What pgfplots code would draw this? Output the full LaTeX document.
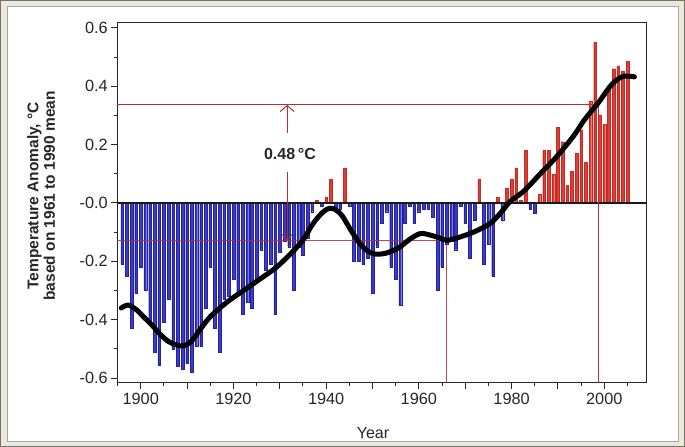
\documentclass[border=0pt]{standalone}
\usepackage{fontspec}
\setmainfont{Liberation Sans}
\usepackage{pgfplots}
\pgfplotsset{compat=1.18}
\usetikzlibrary{arrows.meta}
\definecolor{barblue}{RGB}{58,58,205}
\definecolor{barblueedge}{RGB}{35,35,150}
\definecolor{barred}{RGB}{228,58,48}
\definecolor{barrededge}{RGB}{190,45,40}
\definecolor{refline}{RGB}{178,48,48}
\definecolor{frameback}{RGB}{236,233,216}
\begin{document}
\begin{tikzpicture}
\fill[frameback] (0bp,0bp) rectangle (685bp,447bp);
\draw[black!55, line width=1bp] (0.5bp,0.5bp) rectangle (684.5bp,446.5bp);
\filldraw[fill=white, draw=black!35, line width=0.8bp] (7bp,6bp) rectangle (678bp,441bp);
\begin{axis}[
  at={(117.3bp,64.3bp)}, anchor=south west,
  scale only axis, width=529.4bp, height=360.4bp,
  xmin=1894.95, xmax=2009.15, ymin=-0.616, ymax=0.619,
  axis line style={line width=1.3bp, black!85},
  tick align=outside, xtick pos=bottom, ytick pos=left,
  major tick length=6bp, minor tick length=3.5bp,
  every tick/.style={black!85, line width=1bp},
  xtick={1900,1910,...,2000},
  xticklabels={1900,,1920,,1940,,1960,,1980,,2000},
  minor xtick={1895,1905,...,2005},
  ytick={-0.6,-0.4,-0.2,0,0.2,0.4,0.6},
  yticklabels={-0.6,-0.4,-0.2,-0.0,0.2,0.4,0.6},
  minor ytick={-0.5,-0.3,-0.1,0.1,0.3,0.5},
  /pgf/number format/assume math mode=true,
  ticklabel style={font=\fontsize{16.3bp}{18bp}\selectfont, text=black!85},
  xticklabel style={yshift=-0.5bp},
  xlabel={Year},
  xlabel style={at={(axis description cs:0.483,-0.14)}, anchor=center, font=\fontsize{16bp}{19bp}\selectfont, text=black!85},
  ylabel={\textbf{Temperature Anomaly, °C}\\\textbf{based on 1961 to 1990 mean}},
  ylabel style={at={(axis description cs:-0.144,0.5186)}, anchor=center, align=center, font=\fontsize{15.5bp}{16.5bp}\selectfont, text=black!85},
  clip=false,
]
% negative anomalies (blue bars)
\addplot[ybar, bar width=2.7bp, bar shift=0pt, fill=barblue, draw=barblueedge, line width=0.25bp] coordinates {
(1896,-0.21) (1897,-0.25) (1898,-0.43) (1899,-0.31) (1900,-0.22)
(1901,-0.30) (1902,-0.42) (1903,-0.51) (1904,-0.555) (1905,-0.41)
(1906,-0.33) (1907,-0.50) (1908,-0.56) (1909,-0.57) (1910,-0.55)
(1911,-0.58) (1912,-0.49) (1913,-0.49) (1914,-0.36) (1915,-0.22)
(1916,-0.43) (1917,-0.51) (1918,-0.33) (1919,-0.32) (1920,-0.26)
(1921,-0.31) (1922,-0.38) (1923,-0.34) (1924,-0.36) (1925,-0.26)
(1926,-0.16) (1927,-0.23) (1928,-0.21) (1929,-0.38) (1930,-0.17)
(1931,-0.13) (1932,-0.15) (1933,-0.30) (1934,-0.15) (1935,-0.18)
(1936,-0.12) (1937,-0.03) (1939,-0.01) (1942,-0.02) (1943,-0.02)
(1945,-0.01) (1946,-0.20) (1947,-0.20) (1948,-0.21) (1949,-0.19)
(1950,-0.31) (1951,-0.15) (1952,-0.07) (1953,-0.03) (1954,-0.22)
(1955,-0.26) (1956,-0.35) (1957,-0.07) (1958,-0.01) (1959,-0.07)
(1960,-0.03) (1961,-0.02) (1962,-0.02) (1963,-0.05) (1964,-0.30)
(1965,-0.22) (1966,-0.14) (1967,-0.13) (1968,-0.16) (1969,-0.01)
(1970,-0.07) (1971,-0.19) (1972,-0.06) (1974,-0.21) (1975,-0.14)
(1976,-0.25) (1978,-0.06) (1984,-0.02) (1985,-0.035)
};
% positive anomalies (red bars)
\addplot[ybar, bar width=2.7bp, bar shift=0pt, fill=barred, draw=barrededge, line width=0.25bp] coordinates {
(1938,0.01) (1940,0.02) (1941,0.08) (1944,0.12) (1973,0.08)
(1977,0.02) (1979,0.05) (1980,0.08) (1981,0.12) (1982,0.01)
(1983,0.18) (1986,0.03) (1987,0.18) (1988,0.18) (1989,0.10)
(1990,0.26) (1991,0.21) (1992,0.06) (1993,0.11) (1994,0.17)
(1995,0.25) (1996,0.14) (1997,0.35) (1998,0.55) (1999,0.30)
(2000,0.27) (2001,0.40) (2002,0.46) (2003,0.47) (2004,0.45)
(2005,0.485)
};
% zero line
\draw[black!90, line width=1.3bp] (axis cs:1894.95,0) -- (axis cs:2009.15,0);
% reference lines
\draw[refline, line width=1.2bp] (axis cs:1894.95,0.336) -- (axis cs:1998.8,0.336) -- (axis cs:1998.8,-0.616);
\draw[refline, line width=1.2bp, opacity=0.85] (axis cs:1894.95,-0.128) -- (axis cs:1966,-0.128) -- (axis cs:1966,-0.616);
\draw[refline, line width=1bp, -{Straight Barb[length=6bp,width=14bp]}] (axis cs:1931.6,0.24) -- (axis cs:1931.6,0.336);
\draw[refline, line width=1bp, -{Straight Barb[length=5bp,width=10bp]}] (axis cs:1931.6,0.107) -- (axis cs:1931.6,-0.128);
\node[font=\bfseries\fontsize{16bp}{18bp}\selectfont, text=black!85, fill=white, inner sep=1.5bp] at (axis cs:1932.2,0.169) {0.48\,°C};
% smoothed curve
\addplot[black, line width=5bp, smooth, tension=0.55, line cap=round] coordinates {
(1895.8,-0.36) (1897.3,-0.35) (1899,-0.365) (1900.6,-0.39) (1902.5,-0.42)
(1904.2,-0.45) (1906,-0.475) (1907.8,-0.487) (1909.2,-0.49) (1910.5,-0.48)
(1911.4,-0.465) (1913,-0.43) (1915,-0.39) (1918.6,-0.34) (1922.2,-0.30)
(1925.8,-0.26) (1929.3,-0.22) (1932.9,-0.165) (1935.1,-0.125) (1937.2,-0.07)
(1939.4,-0.03) (1940.9,-0.018) (1942.2,-0.025) (1943.5,-0.045) (1945.2,-0.09)
(1947.3,-0.14) (1949,-0.165) (1950.5,-0.175) (1952.4,-0.174) (1954,-0.166)
(1956,-0.15) (1958,-0.125) (1960.3,-0.105) (1962.4,-0.11) (1964.5,-0.12)
(1966,-0.128) (1968.2,-0.12) (1971.8,-0.10) (1975.4,-0.07) (1977.6,-0.035)
(1979.7,0.005) (1982.6,0.04) (1986.2,0.10) (1989.8,0.16) (1993.4,0.23)
(1995.5,0.28) (1997.5,0.32) (1998.8,0.345) (2001.3,0.40) (2003,0.425)
(2004.5,0.435) (2006.5,0.432)
};
\end{axis}
\end{tikzpicture}
\end{document}
